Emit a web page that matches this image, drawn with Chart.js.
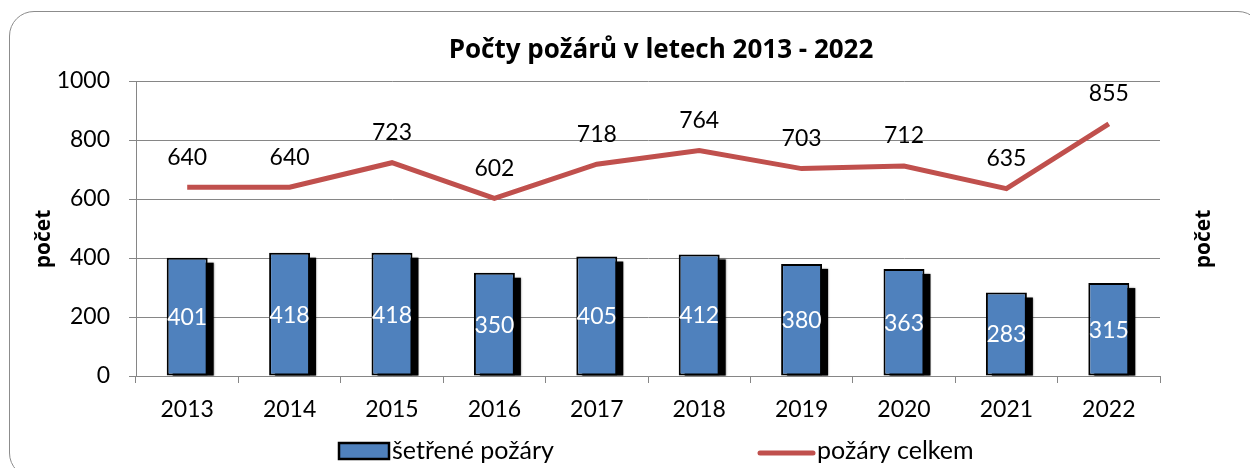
<!DOCTYPE html>
<html><head><meta charset="utf-8">
<script src="https://cdn.jsdelivr.net/npm/chart.js@4.4.0/dist/chart.umd.min.js"></script>
<style>
html,body{margin:0;padding:0;background:#fff;overflow:hidden;}
#wrap{position:relative;width:1250px;height:468px;overflow:hidden;background:#fff;}
#frame{position:absolute;left:9px;top:11px;width:1254px;height:467px;border:1.5px solid #8c8c8c;border-radius:25px;box-sizing:border-box;}
canvas{position:absolute;left:0;top:0;}
</style></head><body>
<div id="wrap"><div id="frame"></div><canvas id="c" width="1250" height="468"></canvas></div>
<script>
const years = ['2013','2014','2015','2016','2017','2018','2019','2020','2021','2022'];
const investigatedFires = [401,418,418,350,405,412,380,363,283,315];
const totalFires = [640,640,723,602,718,764,703,712,635,855];
const yTicks = [0,200,400,600,800,1000];
const seriesNames = ['šetřené požáry','požáry celkem'];
const chartTitle = 'Počty požárů v letech 2013 - 2022';
const axisTitle = 'počet';

const FONT = 'Lato, "Liberation Sans", sans-serif';
const TITLE_FONT = '"Open Sans", Lato, sans-serif';
const GRID = '#868686';
const BLUE = '#4F81BD';
const RED = '#C0504D';

Chart.defaults.font.family = FONT;
Chart.defaults.color = '#000';

const shadowPlugin = {
  id: 'barShadow',
  beforeDatasetDraw(chart, args) {
    if (args.index !== 0) return;
    const ctx = chart.ctx, area = chart.chartArea;
    ctx.save();
    ctx.beginPath();
    ctx.rect(area.left, area.top, area.right - area.left + 20, area.bottom - area.top);
    ctx.clip();
    ctx.fillStyle = '#000';
    ctx.shadowColor = 'rgba(0,0,0,0.5)';
    ctx.shadowBlur = 2;
    args.meta.data.forEach(el => {
      const p = el.getProps(['x','y','base','width'], true);
      ctx.fillRect(p.x - p.width/2 + 6, p.y + 5, p.width, p.base - p.y - 5);
    });
    ctx.restore();
  }
};

const labelPlugin = {
  id: 'valueLabels',
  afterDatasetsDraw(chart) {
    const ctx = chart.ctx;
    ctx.save();
    ctx.font = '23px ' + FONT;
    ctx.textAlign = 'center';
    ctx.textBaseline = 'middle';
    const barMeta = chart.getDatasetMeta(0);
    barMeta.data.forEach((el, i) => {
      const p = el.getProps(['x','y','base'], true);
      ctx.fillStyle = '#fff';
      ctx.fillText(String(chart.data.datasets[0].data[i]), p.x, (p.y + p.base) / 2 + 1);
    });
    const lineMeta = chart.getDatasetMeta(1);
    lineMeta.data.forEach((el, i) => {
      const p = el.getProps(['x','y'], true);
      ctx.fillStyle = '#000';
      ctx.fillText(String(chart.data.datasets[1].data[i]), p.x, p.y - 30);
    });
    ctx.restore();
  }
};

const extrasPlugin = {
  id: 'extras',
  afterDraw(chart) {
    const ctx = chart.ctx;
    ctx.save();
    // axis titles (both read bottom-to-top)
    ctx.font = 'bold 21px ' + TITLE_FONT;
    ctx.fillStyle = '#000';
    ctx.textAlign = 'center';
    ctx.textBaseline = 'middle';
    [44, 1204].forEach(x => {
      ctx.save();
      ctx.translate(x, 239);
      ctx.rotate(-Math.PI / 2);
      ctx.fillText(axisTitle, 0, 0);
      ctx.restore();
    });
    // legend
    const ds = chart.data.datasets;
    ctx.font = '25px ' + FONT;
    ctx.textAlign = 'left';
    const ly = 451;
    ctx.fillStyle = ds[0].backgroundColor;
    ctx.fillRect(339, ly - 8, 50, 16);
    ctx.strokeStyle = ds[0].borderColor;
    ctx.lineWidth = 2.5;
    ctx.strokeRect(339, ly - 8, 50, 16);
    ctx.fillStyle = '#000';
    ctx.fillText(ds[0].label, 392, ly);
    ctx.strokeStyle = ds[1].borderColor;
    ctx.lineWidth = 5;
    ctx.lineCap = 'round';
    ctx.beginPath();
    ctx.moveTo(760, ly + 2);
    ctx.lineTo(813, ly + 2);
    ctx.stroke();
    ctx.fillText(ds[1].label, 817, ly);
    ctx.restore();
  }
};

new Chart(document.getElementById('c'), {
  data: {
    labels: years,
    datasets: [
      {
        type: 'bar',
        label: seriesNames[0],
        data: investigatedFires,
        backgroundColor: BLUE,
        borderColor: '#000',
        borderWidth: 2,
        borderSkipped: false,
        barPercentage: 0.4,
        categoryPercentage: 1.0,
        order: 2
      },
      {
        type: 'line',
        label: seriesNames[1],
        data: totalFires,
        borderColor: RED,
        backgroundColor: RED,
        borderWidth: 5,
        pointRadius: 0,
        tension: 0,
        order: 1
      }
    ]
  },
  options: {
    responsive: false,
    devicePixelRatio: 1,
    animation: false,
    layout: { padding: { left: 56, right: -16, top: 0, bottom: 50 } },
    plugins: {
      legend: { display: false },
      tooltip: { enabled: false },
      title: {
        display: true,
        text: chartTitle,
        color: '#000',
        font: { size: 26, weight: 'bold', family: TITLE_FONT, lineHeight: 1.2 },
        padding: { top: 34.5, bottom: 15.3 }
      }
    },
    scales: {
      x: {
        grid: { display: true, drawOnChartArea: false, drawTicks: true, tickLength: 7, color: GRID, offset: true },
        border: { display: true, color: GRID, width: 1 },
        ticks: { font: { size: 23 }, color: '#000', padding: 13, maxRotation: 0 },
        afterFit(s) { s.height = 42; }
      },
      y: {
        position: 'left',
        min: 0, max: 1000,
        afterBuildTicks(s) { s.ticks = yTicks.map(v => ({ value: v })); },
        grid: { color: GRID, tickLength: 7, drawTicks: true },
        border: { display: true, color: GRID, width: 1 },
        ticks: { font: { size: 23 }, color: '#000', padding: 19, callback: v => String(v) },
        afterFit(s) { s.width = 80; }
      },
      y2: {
        position: 'right',
        display: true,
        grid: { display: false, drawTicks: false },
        border: { display: false },
        ticks: { display: false },
        afterFit(s) { s.width = 106; }
      }
    }
  },
  plugins: [shadowPlugin, labelPlugin, extrasPlugin]
});
</script>
</body></html>
